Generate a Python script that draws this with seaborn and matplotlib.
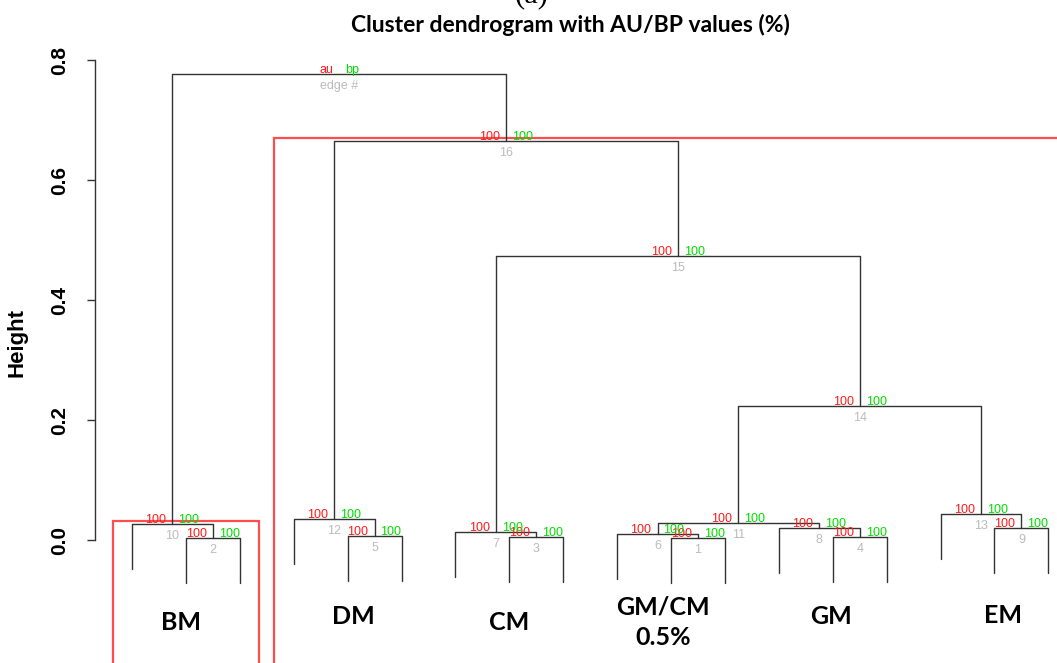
import pandas as pd
import matplotlib
matplotlib.use("Agg")
import matplotlib.pyplot as plt
import seaborn as sns
from matplotlib.patches import Rectangle

# hclust-style merge table: negative = leaf position, positive = earlier edge number
merge_left = [-11, -2, -8, -14, -5, -10, -7, -13, -17, -1, 6, -4, -16, 11, 7, 12, 10]
merge_right = [-12, -3, -9, -15, -6, 1, 3, 4, -18, 2, 8, 5, 9, 13, 14, 15, 16]
merge_height = [0.0037, 0.0038, 0.0055, 0.0057, 0.0072, 0.0095, 0.0128, 0.0195, 0.0197,
                0.0262, 0.0290, 0.0350, 0.0428, 0.2233, 0.4733, 0.6650, 0.7767]
au_values = [100, 100, 100, 100, 100, 100, 100, 100, 100, 100, 100, 100, 100, 100, 100, 100]
bp_values = [100, 100, 100, 100, 100, 100, 100, 100, 100, 100, 100, 100, 100, 100, 100, 100]

group_names = ["BM", "DM", "CM", "GM/CM\n0.5%", "GM", "EM"]
rect_edges = [10, 16]  # clusters boxed by pvrect

# where the group labels sit (leaf units / height units)
group_x = [1.91, 5.10, 7.99, 10.85, 13.97, 17.16]
group_y = [-0.137, -0.128, -0.137, -0.137, -0.128, -0.125]

hang = 0.075
AU_COL, BP_COL, EDGE_COL = "#FF1A1A", "#00DD00", "#BBBBBB"

sns.set_theme(style="white", rc={"text.color": "black", "ytick.color": "black",
                                 "axes.labelcolor": "black"})
plt.rcParams["font.family"] = ["Liberation Sans", "DejaVu Sans"]

fig = plt.figure(figsize=(10.57, 6.63), dpi=100)
ax = fig.add_axes([0.0902, 0.0045, 0.9363, 0.9231])

# build dendrogram segments
node_x = {}
node_leaves = {}
rows = []
for i, (l, r, h) in enumerate(zip(merge_left, merge_right, merge_height), start=1):
    pts = []
    leaves = []
    for c in (l, r):
        if c < 0:
            pts.append((-c, h - hang))
            leaves.append(-c)
        else:
            pts.append((node_x[c], merge_height[c - 1]))
            leaves += node_leaves[c]
    (xl, hl), (xr, hr) = pts
    node_x[i] = (xl + xr) / 2
    node_leaves[i] = leaves
    rows += [(i, xl, hl), (i, xl, h), (i, xr, h), (i, xr, hr)]
segs = pd.DataFrame(rows, columns=["edge", "x", "y"])

sns.lineplot(data=segs, x="x", y="y", units="edge", estimator=None, sort=False,
             color="#333333", lw=1, ax=ax)

# au / bp / edge labels
for i in range(1, len(merge_height) + 1):
    x, h = node_x[i], merge_height[i - 1]
    if i <= len(au_values):
        au, bp, ed = str(au_values[i - 1]), str(bp_values[i - 1]), str(i)
    else:
        au, bp, ed = "au", "bp", "edge #"
    kw = dict(textcoords="offset pixels", fontsize=9, annotation_clip=False)
    ax.annotate(au, (x, h), xytext=(-6, 1), ha="right", va="baseline", color=AU_COL, **kw)
    ax.annotate(bp, (x, h), xytext=(6, 1), ha="left", va="baseline", color=BP_COL, **kw)
    ax.annotate(ed, (x, h), xytext=(0, -6), ha="center", va="top", color=EDGE_COL, **kw)

# pvrect boxes
for e in rect_edges:
    lv = node_leaves[e]
    top = merge_height[e - 1] + 0.005
    ax.add_patch(Rectangle((min(lv) - 0.36, -0.4), max(lv) - min(lv) + 0.72, top + 0.4,
                           fill=False, ec="#FF4D4D", lw=1.6, clip_on=False))

# group labels under the leaves
for name, gx, gy in zip(group_names, group_x, group_y):
    ax.text(gx, gy, name, ha="center", va="center", fontsize=18, color="black",
            fontweight="bold", family="Lato", linespacing=1.35, clip_on=False)

ax.set_xlim(0.32, 18.68)
ax.set_ylim(-0.2, 0.82)
ax.set_xticks([])
ax.set_yticks([0.0, 0.2, 0.4, 0.6, 0.8])
ax.set_yticklabels(["0.0", "0.2", "0.4", "0.6", "0.8"], rotation=90, va="center",
                   fontsize=15, fontweight="bold")
ax.tick_params(axis="y", left=True, length=5.8, width=1, color="#333333", pad=13)
ax.set_xlabel("")
ax.set_ylabel("")
sns.despine(ax=ax, bottom=True)
ax.spines["left"].set_bounds(0, 0.8)
ax.spines["left"].set_color("#333333")
ax.spines["left"].set_linewidth(1)

fig.text(17 / 1057, 1 - 342 / 663, "Height", rotation=90, ha="center", va="center",
         fontsize=16, fontweight="bold")
fig.text(570 / 1057, 1 - 25 / 663, "Cluster dendrogram with AU/BP values (%)",
         ha="center", va="center", fontsize=16.5, fontweight="bold", family="Lato")
fig.text(532 / 1057, 1 - 2 / 663, "(a)", ha="center", va="baseline", fontsize=22,
         family="Liberation Serif")

fig.savefig("out.png", dpi=100)
